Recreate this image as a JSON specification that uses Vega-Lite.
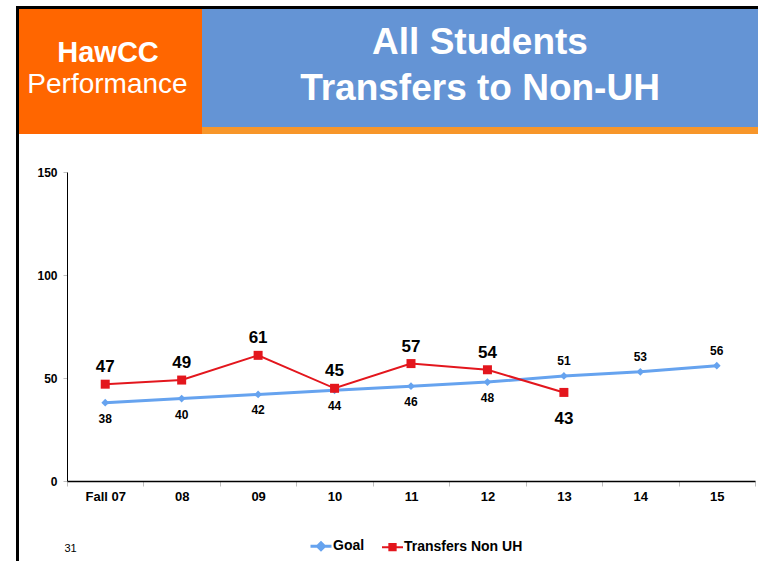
{
  "$schema": "https://vega.github.io/schema/vega-lite/v6.json",
  "padding": {"left": 16, "top": 6, "right": 0, "bottom": 0},
  "background": "white",
  "config": {
    "font": "Liberation Sans",
    "view": {"stroke": null},
    "concat": {"spacing": 0},
    "legend": {
      "orient": "none", "legendX": 293, "legendY": 528, "direction": "horizontal", "padding": 0,
      "labelFontSize": 14, "labelFontWeight": "bold", "labelColor": "black",
      "symbolType": "M-1,0H1M-0.33,0L0,-0.33L0.33,0L0,0.33Z",
      "symbolSize": 441, "symbolStrokeWidth": 2.5, "labelOffset": 0, "columnPadding": 13
    }
  },
  "spacing": 0,
  "hconcat": [
    {
      "width": 3,
      "height": 555,
      "view": {"fill": "#000000", "stroke": null},
      "data": {"values": []},
      "mark": "point"
    },
    {
      "spacing": 32,
      "vconcat": [
        {
          "spacing": 0,
          "vconcat": [
            {
              "width": 739,
              "height": 3,
              "view": {"fill": "#000000", "stroke": null},
              "data": {"values": []},
              "mark": "point"
            },
            {
              "spacing": 0,
              "hconcat": [
                {
                  "width": 183,
                  "height": 125,
                  "view": {"fill": "#ff6600", "stroke": null},
                  "data": {"values": [{"line": "HawCC"}, {"line": "Performance"}]},
                  "encoding": {"text": {"field": "line"}},
                  "layer": [
                    {
                      "transform": [{"filter": {"field": "line", "equal": "HawCC"}}],
                      "mark": {"type": "text", "font": "Liberation Sans", "fontWeight": "bold", "fontSize": 29, "color": "white", "baseline": "alphabetic", "dy": -9.5, "dx": -2.5}
                    },
                    {
                      "transform": [{"filter": {"field": "line", "equal": "Performance"}}],
                      "mark": {"type": "text", "font": "Liberation Sans", "fontWeight": "normal", "fontSize": 28, "color": "white", "baseline": "alphabetic", "dy": 21.5, "dx": -3}
                    }
                  ]
                },
                {
                  "spacing": 0,
                  "vconcat": [
                    {
                      "width": 556,
                      "height": 118,
                      "view": {"fill": "#6494d5", "stroke": null},
                      "data": {"values": [{"line": "All Students"}, {"line": "Transfers to Non-UH"}]},
                      "mark": {"type": "text", "font": "Liberation Sans", "fontWeight": "bold", "fontSize": 37, "color": "white", "baseline": "alphabetic", "dy": 9},
                      "encoding": {
                        "y": {"field": "line", "type": "nominal", "axis": null, "scale": {"type": "point", "domain": ["All Students", "Transfers to Non-UH"], "padding": 0.811}},
                        "text": {"field": "line"}
                      }
                    },
                    {
                      "width": 556,
                      "height": 7,
                      "view": {"fill": "#f7962a", "stroke": null},
                      "data": {"values": []},
                      "mark": "point"
                    }
                  ]
                }
              ]
            }
          ]
        },
        {
          "spacing": 0,
          "hconcat": [
            {
              "width": 1,
              "height": 1,
              "view": {"stroke": null},
              "data": {"values": []},
              "mark": "point"
            },
            {
              "width": 688,
              "height": 309,
              "data": {
                "values": [
                  {"year": "Fall 07", "series": "Goal", "value": 38},
                  {"year": "08", "series": "Goal", "value": 40},
                  {"year": "09", "series": "Goal", "value": 42},
                  {"year": "10", "series": "Goal", "value": 44},
                  {"year": "11", "series": "Goal", "value": 46},
                  {"year": "12", "series": "Goal", "value": 48},
                  {"year": "13", "series": "Goal", "value": 51},
                  {"year": "14", "series": "Goal", "value": 53},
                  {"year": "15", "series": "Goal", "value": 56},
                  {"year": "Fall 07", "series": "Transfers Non UH", "value": 47},
                  {"year": "08", "series": "Transfers Non UH", "value": 49},
                  {"year": "09", "series": "Transfers Non UH", "value": 61},
                  {"year": "10", "series": "Transfers Non UH", "value": 45},
                  {"year": "11", "series": "Transfers Non UH", "value": 57},
                  {"year": "12", "series": "Transfers Non UH", "value": 54},
                  {"year": "13", "series": "Transfers Non UH", "value": 43}
                ]
              },
              "encoding": {
                "x": {
                  "field": "year", "type": "ordinal",
                  "sort": ["Fall 07", "08", "09", "10", "11", "12", "13", "14", "15"],
                  "scale": {"type": "band", "paddingInner": 0, "paddingOuter": 0},
                  "axis": {"title": "31", "titleAnchor": "start", "titleAlign": "left", "titleX": -3, "titleY": 67, "titleBaseline": "middle", "titleFontSize": 11, "titleFontWeight": "normal", "titleColor": "black", "labelAngle": 0, "labelFontSize": 13, "labelFontWeight": "bold", "labelColor": "black", "tickBand": "extent", "tickColor": "#bfbfbf", "tickSize": 5, "domainColor": "black", "domainWidth": 1.5, "labelPadding": 4, "grid": false}
                },
                "y": {
                  "field": "value", "type": "quantitative",
                  "scale": {"domain": [0, 150], "nice": false},
                  "axis": {"title": null, "values": [0, 50, 100, 150], "labelFontSize": 12, "labelFontWeight": "bold", "labelColor": "black", "tickColor": "#bfbfbf", "tickSize": 4, "domainColor": "black", "domainWidth": 1, "labelPadding": 6, "grid": false, "minExtent": 47}
                }
              },
              "layer": [
                {
                  "mark": {"type": "line"},
                  "encoding": {
                    "color": {
                      "field": "series", "type": "nominal",
                      "scale": {"domain": ["Goal", "Transfers Non UH"], "range": ["#66a3ef", "#e3161d"]},
                      "legend": {
                        "title": null,
                        "encode": {
                          "symbols": {
                            "update": {
                              "shape": {"signal": "datum.value === 'Goal' ? 'M-1,0H1M-0.33,0L0,-0.33L0.33,0L0,0.33Z' : 'M-1,0H1M-0.3,-0.3H0.3V0.3H-0.3Z'"},
                              "fill": {"scale": "color", "field": "value"},
                              "stroke": {"scale": "color", "field": "value"},
                              "strokeWidth": {"value": 2.5},
                              "opacity": {"value": 1}
                            }
                          }
                        }
                      }
                    },
                    "strokeWidth": {"field": "series", "type": "nominal", "scale": {"domain": ["Goal", "Transfers Non UH"], "range": [3, 2]}, "legend": null}
                  }
                },
                {
                  "transform": [{"filter": {"field": "series", "equal": "Goal"}}],
                  "mark": {"type": "point", "filled": true, "opacity": 1, "shape": "diamond", "size": 60, "color": "#66a3ef"}
                },
                {
                  "transform": [{"filter": {"field": "series", "equal": "Transfers Non UH"}}],
                  "mark": {"type": "point", "filled": true, "opacity": 1, "shape": "square", "size": 81, "color": "#e3161d"}
                },
                {
                  "transform": [{"filter": {"and": [{"field": "series", "equal": "Goal"}, {"not": {"field": "year", "oneOf": ["13", "14", "15"]}}]}}],
                  "mark": {"type": "text", "fontSize": 12, "fontWeight": "bold", "color": "black", "baseline": "middle", "dy": 16},
                  "encoding": {"text": {"field": "value", "type": "quantitative"}}
                },
                {
                  "transform": [{"filter": {"and": [{"field": "series", "equal": "Goal"}, {"field": "year", "oneOf": ["13", "14", "15"]}]}}],
                  "mark": {"type": "text", "fontSize": 12, "fontWeight": "bold", "color": "black", "baseline": "middle", "dy": -15},
                  "encoding": {"text": {"field": "value", "type": "quantitative"}}
                },
                {
                  "transform": [{"filter": {"and": [{"field": "series", "equal": "Transfers Non UH"}, {"not": {"field": "year", "equal": "13"}}]}}],
                  "mark": {"type": "text", "fontSize": 17, "fontWeight": "bold", "color": "black", "baseline": "middle", "dy": -17},
                  "encoding": {"text": {"field": "value", "type": "quantitative"}}
                },
                {
                  "transform": [{"filter": {"and": [{"field": "series", "equal": "Transfers Non UH"}, {"field": "year", "equal": "13"}]}}],
                  "mark": {"type": "text", "fontSize": 17, "fontWeight": "bold", "color": "black", "baseline": "middle", "dy": 27},
                  "encoding": {"text": {"field": "value", "type": "quantitative"}}
                }
              ]
            }
          ]
        }
      ]
    }
  ]
}
